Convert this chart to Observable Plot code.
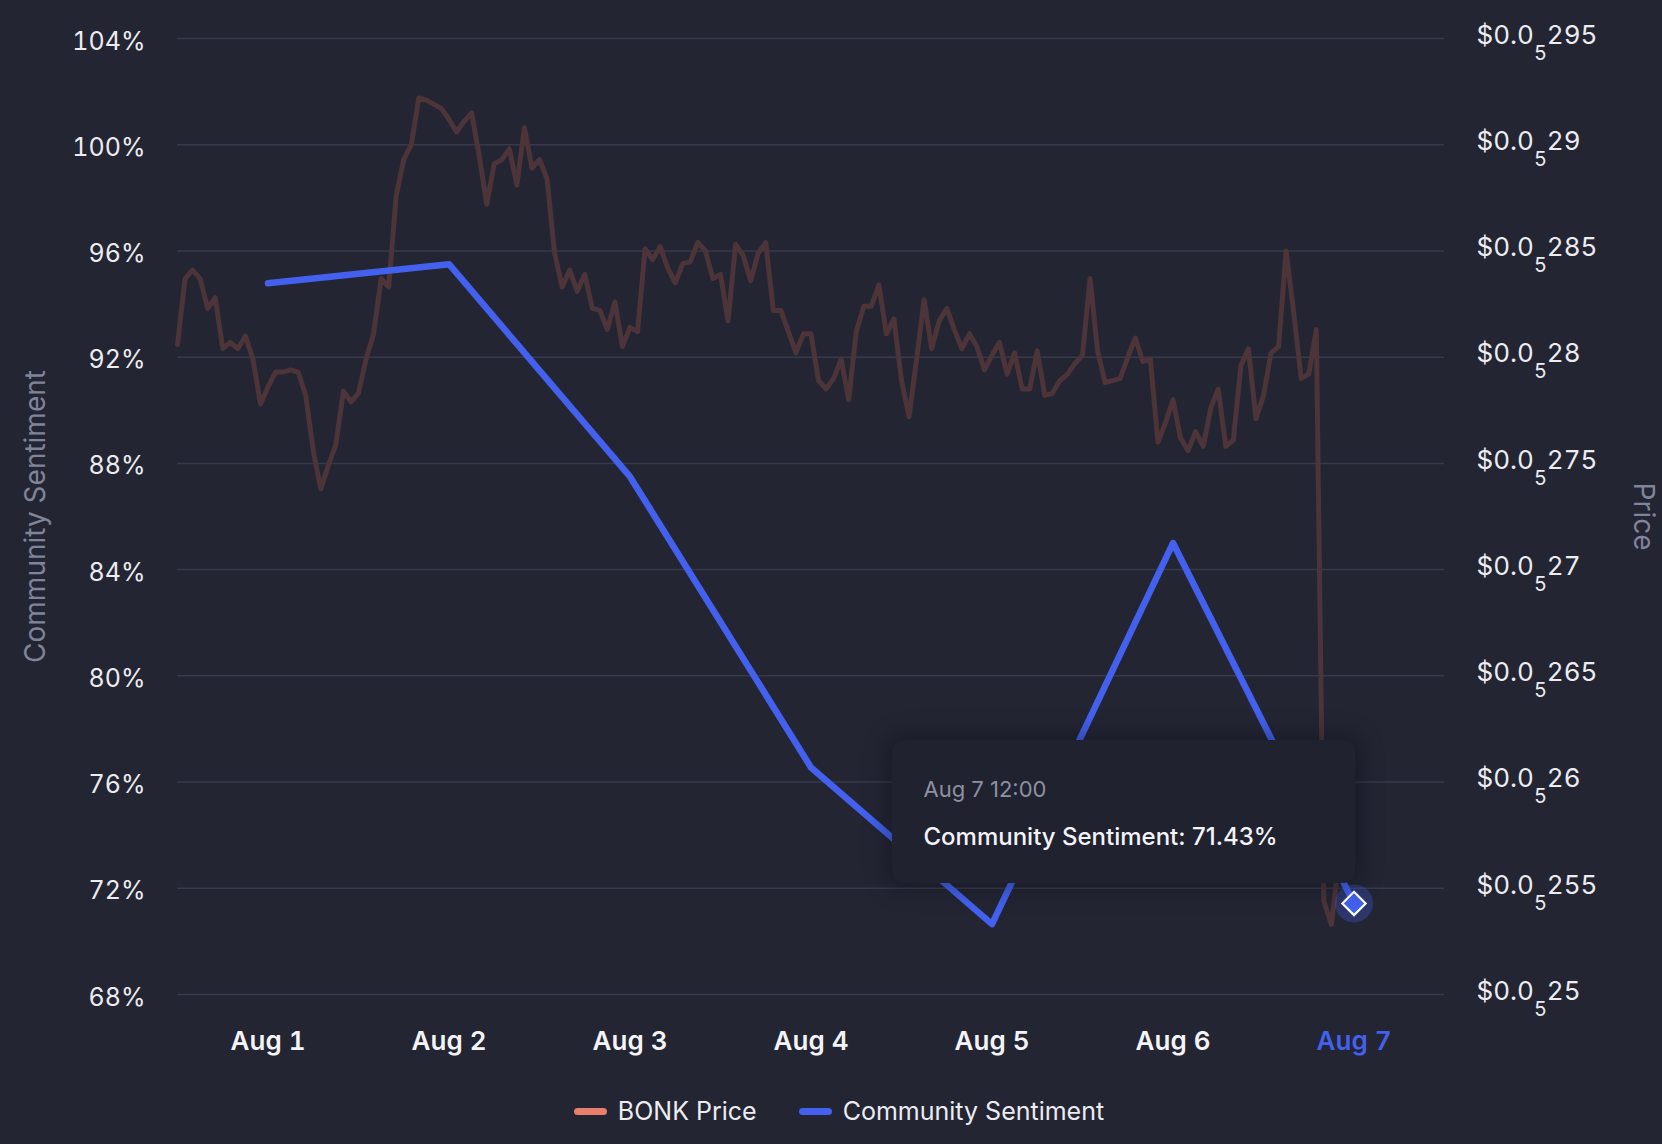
<!DOCTYPE html>
<html>
<head>
<meta charset="utf-8">
<script src="https://cdn.jsdelivr.net/npm/d3@7"></script>
<script src="https://cdn.jsdelivr.net/npm/@observablehq/plot@0.6"></script>
<style>
  html, body { margin: 0; padding: 0; background: #232533; }
  body { width: 1662px; height: 1144px; overflow: hidden; font-family: Inter, "Noto Sans", sans-serif; }
  #wrap { position: relative; width: 1662px; }
  #tip {
    position: absolute; box-sizing: border-box; width: 463px; height: 143px;
    background: #202230; border-radius: 12px;
    box-shadow: 0 0 22px 6px rgba(10, 11, 18, 0.35);
  }
  #tip .date { position: absolute; left: 32px; top: 34px; font-size: 22px; line-height: 30px; color: #8e91a0; white-space: nowrap; }
  #tip .val { position: absolute; left: 32px; top: 81px; font-size: 24px; line-height: 32px; color: #f4f4f8; font-weight: 500; white-space: nowrap; }
  #legend { display: flex; justify-content: center; align-items: center; margin-top: 16px; padding-left: 16px;
    height: 30px; font-size: 25px; color: #ececf1; }
  #legend .item { display: flex; align-items: center; }
  #legend .item + .item { margin-left: 42px; }
  #legend .sw { width: 33px; height: 7px; border-radius: 4px; margin-right: 11px; }
  tspan.sub { font-size: 20px; }
</style>
</head>
<body>
<div id="wrap"></div>
<script>
// ---------- data ----------
const seriesNames = ["BONK Price", "Community Sentiment"];
const seriesColors = ["#e8806b", "#4361ee"];

// Community sentiment (%), daily at 12:00 UTC
const sentimentDays = ["2023-08-01T12:00Z", "2023-08-02T12:00Z", "2023-08-03T12:00Z", "2023-08-04T12:00Z",
                       "2023-08-05T12:00Z", "2023-08-06T12:00Z", "2023-08-07T12:00Z"];
const sentimentValues = [94.78, 95.5, 87.5, 76.55, 70.65, 85.0, 71.43];

// BONK price in millionths of a dollar, hourly from 2023-08-01 00:00 UTC
const priceStart = "2023-08-01T00:00Z";
const bonkPriceE6 = [
  2.806, 2.837, 2.841, 2.837, 2.823, 2.828, 2.804, 2.807, 2.804, 2.810, 2.799, 2.778,
  2.786, 2.793, 2.793, 2.794, 2.793, 2.782, 2.756, 2.738, 2.749, 2.759, 2.784, 2.779,
  2.783, 2.799, 2.811, 2.837, 2.833, 2.876, 2.893, 2.900, 2.922, 2.921, 2.919, 2.917,
  2.912, 2.906, 2.911, 2.915, 2.895, 2.872, 2.891, 2.893, 2.898, 2.881, 2.908, 2.889,
  2.893, 2.884, 2.849, 2.833, 2.841, 2.831, 2.839, 2.823, 2.822, 2.813, 2.826, 2.805,
  2.814, 2.812, 2.851, 2.846, 2.852, 2.842, 2.835, 2.844, 2.845, 2.854, 2.850, 2.837,
  2.839, 2.817, 2.853, 2.848, 2.836, 2.849, 2.854, 2.822, 2.822, 2.812, 2.802, 2.811,
  2.811, 2.789, 2.785, 2.790, 2.799, 2.780, 2.812, 2.824, 2.824, 2.834, 2.811, 2.818,
  2.789, 2.772, 2.799, 2.827, 2.804, 2.817, 2.823, 2.813, 2.804, 2.811, 2.805, 2.794,
  2.801, 2.807, 2.792, 2.802, 2.785, 2.785, 2.803, 2.782, 2.783, 2.789, 2.792, 2.797,
  2.801, 2.837, 2.803, 2.788, 2.789, 2.790, 2.800, 2.809, 2.798, 2.799, 2.760, 2.769,
  2.780, 2.762, 2.756, 2.765, 2.758, 2.776, 2.785, 2.758, 2.761, 2.796, 2.804, 2.771,
  2.782, 2.802, 2.805, 2.850, 2.821, 2.790, 2.792, 2.813, 2.544, 2.533, 2.563
];

// axis ticks
const sentimentTicks = [68, 72, 76, 80, 84, 88, 92, 96, 100, 104];
const priceTicksE6 = [2.5, 2.55, 2.6, 2.65, 2.7, 2.75, 2.8, 2.85, 2.9, 2.95];
const xTickDays = ["2023-08-01T12:00Z", "2023-08-02T12:00Z", "2023-08-03T12:00Z", "2023-08-04T12:00Z",
                   "2023-08-05T12:00Z", "2023-08-06T12:00Z", "2023-08-07T12:00Z"];
const xDomain = ["2023-08-01T00:00Z", "2023-08-08T00:00Z"];
const activeIndex = 6;
const tooltipDate = "Aug 7 12:00";

// ---------- derived ----------
const sentDomain = [68, 104];
const priceDomain = [2.5, 2.95];
const priceToS = p => sentDomain[0] + (p - priceDomain[0]) / (priceDomain[1] - priceDomain[0]) * (sentDomain[1] - sentDomain[0]);

const t0 = new Date(priceStart).getTime();
const priceData = bonkPriceE6.map((p, i) => ({t: new Date(t0 + i * 3600e3), s: priceToS(p), p}));
const sentData = sentimentDays.map((d, i) => ({t: new Date(d), v: sentimentValues[i]}));
const active = sentData[activeIndex];
const xTicks = xTickDays.map(d => new Date(d));
const rightTicks = priceTicksE6.map(p => ({s: priceToS(p), label: String(p).replace(".", "")}));

const blue = seriesColors[1];
const fmtDay = d3.utcFormat("%b %-d");

const chart = Plot.plot({
  width: 1662,
  height: 1080,
  marginLeft: 177,
  marginRight: 218,
  marginTop: 38,
  marginBottom: 86,
  style: {background: "transparent", color: "#ececf1", fontFamily: "Inter, sans-serif", fontSize: "26px", overflow: "visible"},
  x: {type: "utc", domain: xDomain.map(d => new Date(d))},
  y: {domain: sentDomain},
  marks: [
    Plot.gridY(sentimentTicks, {stroke: "#373a4d", strokeOpacity: 1, strokeWidth: 1.5}),
    Plot.axisY(sentimentTicks, {anchor: "left", tickSize: 0, tickPadding: 32, tickFormat: d => d + "%",
      label: null, fontSize: 25, fill: "#ececf1", dy: 3}),
    Plot.axisY(rightTicks.map(d => d.s), {anchor: "right", tickSize: 0, tickPadding: 32,
      tickFormat: s => "$0.0|5|" + rightTicks.find(r => Math.abs(r.s - s) < 1e-6).label,
      label: null, fontSize: 26, fill: "#ececf1"}),
    Plot.axisX(xTicks.filter((d, i) => i !== activeIndex), {anchor: "bottom", tickSize: 0, tickPadding: 37,
      tickFormat: fmtDay, label: null, fontSize: 26, fontWeight: 600, fill: "#f4f4f8"}),
    Plot.axisX([xTicks[activeIndex]], {anchor: "bottom", tickSize: 0, tickPadding: 37,
      tickFormat: fmtDay, label: null, fontSize: 26, fontWeight: 600, fill: blue}),
    Plot.text(["Community Sentiment"], {text: d => d, frameAnchor: "left", textAnchor: "middle", dx: -141, rotate: -90,
      fill: "#80849a", fontSize: 28}),
    Plot.text(["Price"], {text: d => d, frameAnchor: "right", textAnchor: "middle", dx: 198, rotate: 90,
      fill: "#80849a", fontSize: 28}),
    Plot.line(priceData, {x: "t", y: "s", stroke: "#4c3438", strokeWidth: 5, strokeLinejoin: "round", strokeLinecap: "round"}),
    Plot.line(sentData, {x: "t", y: "v", stroke: blue, strokeWidth: 6.5, strokeLinejoin: "round", strokeLinecap: "round"}),
    Plot.dot([active], {x: "t", y: "v", r: 19, fill: blue, fillOpacity: 0.3, stroke: "none"}),
    Plot.dot([active], {x: "t", y: "v", symbol: "diamond2", r: 10.5, fill: blue, stroke: "#ffffff", strokeWidth: 2.2})
  ]
});

// subscript-zero notation on the price axis
chart.querySelectorAll("text").forEach(t => {
  const s = t.textContent;
  if (!s.includes("|")) return;
  const [a, b, c] = s.split("|");
  const ns = "http://www.w3.org/2000/svg";
  t.textContent = "";
  const t1 = document.createElementNS(ns, "tspan"); t1.setAttribute("dy", "-3"); t1.textContent = a;
  const t2 = document.createElementNS(ns, "tspan"); t2.setAttribute("dy", "16"); t2.setAttribute("class", "sub");
  t2.style.fontSize = "20px"; t2.textContent = b;
  const t3 = document.createElementNS(ns, "tspan"); t3.setAttribute("dy", "-16"); t3.style.fontSize = "26px"; t3.textContent = c;
  t.append(t1, t2, t3);
});

const wrap = document.getElementById("wrap");
wrap.appendChild(chart);

// tooltip anchored to the active point through the scales
const px = chart.scale("x").apply(active.t);
const py = chart.scale("y").apply(active.v);
const tip = document.createElement("div");
tip.id = "tip";
tip.style.left = (px - 462) + "px";
tip.style.top = (py - 163) + "px";
tip.innerHTML = `<div class="date">${tooltipDate}</div><div class="val">${seriesNames[1]}: ${active.v.toFixed(2)}%</div>`;
wrap.appendChild(tip);

// legend
const legend = document.createElement("div");
legend.id = "legend";
legend.innerHTML = seriesNames.map((n, i) =>
  `<div class="item"><div class="sw" style="background:${seriesColors[i]}"></div><span>${n}</span></div>`).join("");
document.body.appendChild(legend);
</script>
</body>
</html>
